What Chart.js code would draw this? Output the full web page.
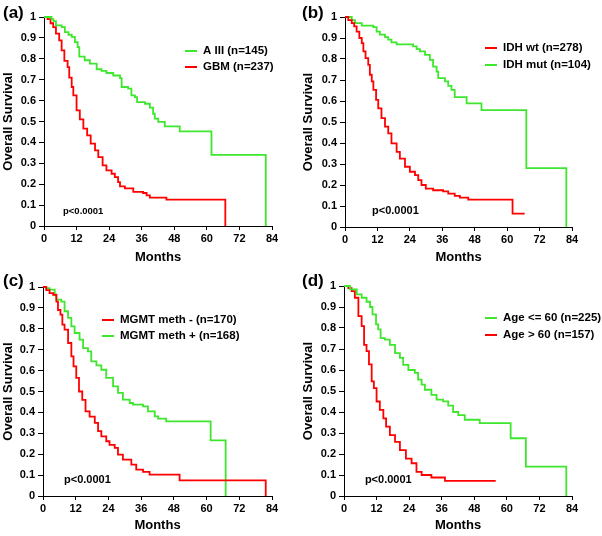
<!DOCTYPE html>
<html><head><meta charset="utf-8">
<script src="https://cdn.jsdelivr.net/npm/chart.js@4"></script>
<style>
html,body{margin:0;padding:0;background:#fff;}
#wrap{position:relative;width:602px;height:536px;overflow:hidden;}
canvas{position:absolute;}
</style></head><body>
<div id="wrap">
<canvas id="ca" width="301" height="268" style="left:0;top:0;width:301px;height:268px"></canvas>
<canvas id="cb" width="302" height="268" style="left:300px;top:0;width:302px;height:268px"></canvas>
<canvas id="cc" width="301" height="268" style="left:0;top:268px;width:301px;height:268px"></canvas>
<canvas id="cd" width="302" height="268" style="left:300px;top:268px;width:302px;height:268px"></canvas>
</div>
<script>
// ---- tick labels & texts ----
const monthTicks = [0, 12, 24, 36, 48, 60, 72, 84];
const survivalTicks = [0, 0.1, 0.2, 0.3, 0.4, 0.5, 0.6, 0.7, 0.8, 0.9, 1];
const survivalTickLabels = ['0', '0.1', '0.2', '0.3', '0.4', '0.5', '0.6', '0.7', '0.8', '0.9', '1'];
const panelLabels = ['(a)', '(b)', '(c)', '(d)'];
const pValueText = 'p<0.0001';
const xTitle = 'Months';
const yTitle = 'Overall Survival';

// ---- panel (a) ----
const legendA = ['A III (n=145)', 'GBM (n=237)'];
const aIIITime = [0, 2.8, 3.5, 4.4, 6.5, 7.7, 9, 10.2, 11.4, 12.4, 13, 15, 16.9, 19.4, 21.2, 23, 25.5, 28, 28.6, 31, 32.2, 33.5, 34.3, 37.2, 39, 40.2, 40.8, 42.1, 44.5, 50, 61.7, 81.7];
const aIIISurv = [1, 0.99, 0.98, 0.96, 0.952, 0.928, 0.915, 0.905, 0.88, 0.856, 0.81, 0.793, 0.777, 0.75, 0.742, 0.732, 0.72, 0.708, 0.665, 0.657, 0.625, 0.617, 0.593, 0.585, 0.566, 0.537, 0.514, 0.498, 0.477, 0.453, 0.34, 0];
const gbmTime = [0, 1.3, 2.4, 3.4, 4.4, 5.6, 6.5, 7.5, 8.7, 9.3, 10.2, 10.8, 12, 13.2, 14.5, 15.9, 17.2, 18.8, 20, 21.6, 23, 24.9, 26.1, 27.3, 28, 29.8, 32.9, 36.5, 37.8, 39, 45.1, 66.8];
const gbmSurv = [1, 0.99, 0.97, 0.952, 0.92, 0.888, 0.84, 0.79, 0.76, 0.71, 0.665, 0.625, 0.553, 0.51, 0.466, 0.434, 0.394, 0.362, 0.33, 0.29, 0.266, 0.25, 0.234, 0.21, 0.19, 0.18, 0.163, 0.158, 0.147, 0.136, 0.126, 0];

// ---- panel (b) ----
const legendB = ['IDH wt (n=278)', 'IDH mut (n=104)'];
const idhWtTime = [0, 1.2, 2.5, 3.4, 4.3, 5.3, 6.2, 6.8, 7.6, 8.6, 9.2, 9.9, 10.5, 11.5, 12.3, 13.5, 14.8, 16, 17.2, 19.1, 20.3, 22.2, 24, 25.9, 27.1, 28.3, 29.9, 32.6, 36.3, 38.2, 40.6, 42.5, 45.6, 62, 66.5];
const idhWtSurv = [1, 0.985, 0.971, 0.955, 0.93, 0.9, 0.876, 0.836, 0.804, 0.772, 0.725, 0.693, 0.653, 0.605, 0.565, 0.518, 0.478, 0.446, 0.398, 0.358, 0.326, 0.287, 0.263, 0.247, 0.223, 0.2, 0.183, 0.175, 0.17, 0.159, 0.148, 0.14, 0.13, 0.064, 0.064];
const idhMutTime = [0, 2.5, 3.7, 6.2, 10.5, 11.7, 12.9, 14.8, 16, 17.2, 19.1, 25.2, 26.5, 27.7, 29.6, 31.4, 32.6, 33.9, 34.5, 37, 38.2, 39.4, 40.6, 45, 50.5, 67.1, 81.9];
const idhMutSurv = [1, 0.985, 0.971, 0.959, 0.952, 0.93, 0.916, 0.904, 0.892, 0.879, 0.87, 0.86, 0.847, 0.836, 0.82, 0.796, 0.764, 0.74, 0.709, 0.693, 0.672, 0.653, 0.618, 0.589, 0.557, 0.28, 0];

// ---- panel (c) ----
const legendC = ['MGMT meth - (n=170)', 'MGMT meth + (n=168)'];
const methNegTime = [0, 1.2, 2.4, 3.7, 4.9, 5.5, 6.4, 7.1, 7.9, 9.2, 10.4, 11.2, 12.2, 13.2, 14.4, 15.6, 17.1, 19, 20.2, 21.4, 23.2, 24.4, 26.3, 27.5, 29.3, 32.4, 34.2, 36.7, 39.1, 50.1, 81.7];
const methNegSurv = [1, 0.985, 0.971, 0.963, 0.93, 0.89, 0.868, 0.82, 0.796, 0.732, 0.668, 0.62, 0.565, 0.5, 0.46, 0.405, 0.38, 0.35, 0.31, 0.285, 0.262, 0.245, 0.23, 0.198, 0.174, 0.15, 0.126, 0.115, 0.102, 0.075, 0];
const methPosTime = [0, 1.2, 2.4, 4.3, 4.9, 6.7, 7.9, 9.2, 10.4, 11.6, 13.4, 14.7, 16.5, 17.7, 19.6, 21.4, 23.2, 25.7, 27.5, 29.3, 31.8, 33, 36.7, 38.5, 41, 42.2, 45.2, 61.5, 67];
const methPosSurv = [1, 0.995, 0.987, 0.96, 0.94, 0.93, 0.884, 0.852, 0.812, 0.78, 0.748, 0.708, 0.692, 0.644, 0.625, 0.604, 0.565, 0.525, 0.493, 0.461, 0.445, 0.437, 0.429, 0.405, 0.381, 0.37, 0.357, 0.266, 0];

// ---- panel (d) ----
const legendD = ['Age <= 60 (n=225)', 'Age > 60 (n=157)'];
const youngTime = [0, 2.2, 4.7, 6.5, 8.3, 9.6, 10.5, 11.8, 12.6, 13.5, 15.1, 16.9, 18.8, 20.6, 21.8, 23.7, 26.1, 27.3, 28.6, 29.8, 32.2, 34.1, 36.5, 38.4, 40.2, 42.1, 44.5, 50, 61.4, 67, 81.9];
const youngSurv = [1, 0.984, 0.96, 0.944, 0.925, 0.9, 0.865, 0.817, 0.793, 0.752, 0.745, 0.72, 0.68, 0.658, 0.624, 0.6, 0.586, 0.554, 0.53, 0.506, 0.482, 0.459, 0.451, 0.43, 0.4, 0.385, 0.363, 0.347, 0.275, 0.14, 0];
const oldTime = [0, 1.6, 2.8, 4, 5.3, 6.5, 7.4, 8.3, 9.2, 10.2, 11, 12, 13.2, 14.5, 15.5, 16.9, 18.8, 20.6, 22.8, 24.9, 26.7, 28.6, 32.2, 37.2, 55.9];
const oldSurv = [1, 0.99, 0.976, 0.944, 0.857, 0.809, 0.72, 0.69, 0.627, 0.546, 0.514, 0.45, 0.41, 0.37, 0.33, 0.29, 0.258, 0.218, 0.178, 0.156, 0.115, 0.1, 0.088, 0.072, 0.072];

// ---- styling ----
const GREEN = '#3fe62e';
const RED = '#ff0000';
const FAM = "'Liberation Sans', Arial, Helvetica, sans-serif";

function pts(t, s) { return t.map((x, i) => ({ x: x, y: s[i] })); }

const annot = {
  id: 'annot',
  afterDraw(chart, args, o) {
    const ctx = chart.ctx;
    ctx.save();
    ctx.fillStyle = '#000';
    ctx.font = 'bold 17px ' + FAM;
    ctx.textAlign = 'left';
    ctx.textBaseline = 'middle';
    ctx.fillText(o.label, o.labelX, 13);
    ctx.font = 'bold 11.5px ' + FAM;
    o.legend.forEach((txt, i) => {
      const y = o.legY[i];
      ctx.strokeStyle = o.legColors[i];
      ctx.lineWidth = 2;
      ctx.beginPath();
      ctx.moveTo(o.legX, y);
      ctx.lineTo(o.legX + 12, y);
      ctx.stroke();
      ctx.fillStyle = '#000';
      ctx.fillText(txt, o.legTextX, y);
    });
    ctx.font = 'bold ' + o.pSize + 'px ' + FAM;
    ctx.fillText(pValueText, chart.scales.x.getPixelForValue(o.pAt[0]), chart.scales.y.getPixelForValue(o.pAt[1]));
    ctx.restore();
  }
};

function makePanel(id, W, H, area, series, ann) {
  const tickFont = { family: FAM, size: 11, weight: 'bold' };
  new Chart(document.getElementById(id), {
    type: 'line',
    data: {
      datasets: series.map(sr => ({
        data: pts(sr.t, sr.s), borderColor: sr.color, borderWidth: 1.8,
        pointRadius: 0, stepped: 'before', fill: false, clip: 4
      }))
    },
    options: {
      responsive: false, animation: false, devicePixelRatio: 1,
      layout: { padding: { left: 0, top: area.top, right: W - area.right, bottom: 0 } },
      plugins: { legend: { display: false }, tooltip: { enabled: false }, annot: ann },
      scales: {
        x: {
          type: 'linear', min: 0, max: 84,
          afterBuildTicks: s => { s.ticks = monthTicks.map(v => ({ value: v })); },
          afterFit: s => { s.height = H - area.bottom; },
          ticks: { font: tickFont, color: '#000', padding: 2, maxRotation: 0, autoSkip: false },
          grid: { drawOnChartArea: false, drawTicks: true, tickLength: 4, color: '#000', lineWidth: 1 },
          border: { display: true, color: '#000', width: 1 },
          title: { display: true, text: xTitle, color: '#000', font: { family: FAM, size: 13, weight: 'bold', lineHeight: 1.2 }, padding: { top: 0, bottom: 3 } }
        },
        y: {
          type: 'linear', min: 0, max: 1,
          afterBuildTicks: s => { s.ticks = survivalTicks.map(v => ({ value: v })); },
          afterFit: s => { s.width = area.left; },
          ticks: { font: tickFont, color: '#000', padding: 3, autoSkip: false,
            callback: (v) => { const i = survivalTicks.findIndex(t => Math.abs(t - v) < 1e-6); return i >= 0 ? survivalTickLabels[i] : ''; } },
          grid: { drawOnChartArea: false, drawTicks: true, tickLength: 5, color: '#000', lineWidth: 1 },
          border: { display: true, color: '#000', width: 1 },
          title: { display: true, text: yTitle, color: '#000', font: { family: FAM, size: 13, weight: 'bold', lineHeight: 1.2 }, padding: { top: 0.5, bottom: 0 } }
        }
      }
    },
    plugins: [annot]
  });
}

makePanel('ca', 301, 268, { left: 44, right: 272, top: 17, bottom: 226 },
  [{ t: aIIITime, s: aIIISurv, color: GREEN }, { t: gbmTime, s: gbmSurv, color: RED }],
  { label: panelLabels[0], labelX: 3, legend: legendA, legColors: [GREEN, RED], legX: 185, legY: [51, 67], legTextX: 203, pAt: [7, 0.072], pSize: 9.5 });

makePanel('cb', 302, 268, { left: 45, right: 272, top: 17, bottom: 227 },
  [{ t: idhWtTime, s: idhWtSurv, color: RED }, { t: idhMutTime, s: idhMutSurv, color: GREEN }],
  { label: panelLabels[1], labelX: 2, legend: legendB, legColors: [RED, GREEN], legX: 185, legY: [48, 65], legTextX: 203, pAt: [10, 0.076], pSize: 11 });

makePanel('cc', 301, 268, { left: 43, right: 272, top: 19, bottom: 228 },
  [{ t: methNegTime, s: methNegSurv, color: RED }, { t: methPosTime, s: methPosSurv, color: GREEN }],
  { label: panelLabels[2], labelX: 3, legend: legendC, legColors: [RED, GREEN], legX: 102, legY: [52, 68], legTextX: 120, pAt: [7.7, 0.077], pSize: 11 });

makePanel('cd', 302, 268, { left: 44, right: 272, top: 18, bottom: 228 },
  [{ t: youngTime, s: youngSurv, color: GREEN }, { t: oldTime, s: oldSurv, color: RED }],
  { label: panelLabels[3], labelX: 2, legend: legendD, legColors: [GREEN, RED], legX: 185, legY: [50, 67], legTextX: 203, pAt: [7.7, 0.076], pSize: 11 });
</script>
</body></html>
